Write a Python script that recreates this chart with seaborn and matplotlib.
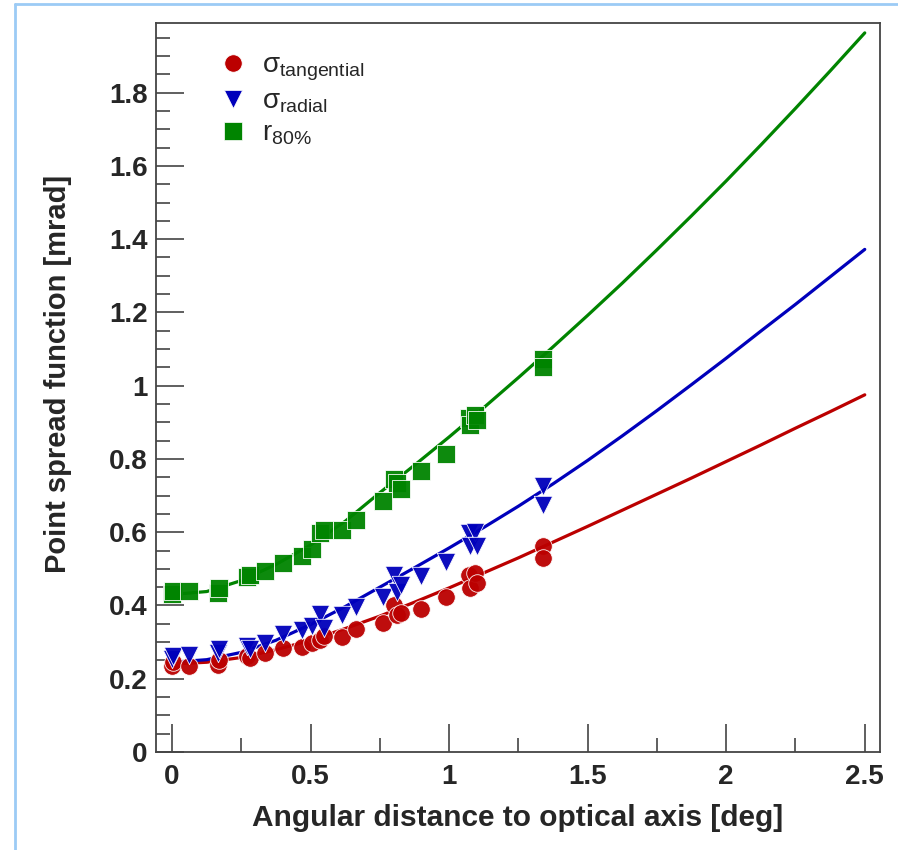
import numpy as np
import pandas as pd
import matplotlib
matplotlib.use("Agg")
import matplotlib.pyplot as plt
import seaborn as sns
from matplotlib.ticker import MultipleLocator, FuncFormatter
from matplotlib.lines import Line2D

# ---------------- data ----------------
angle = [0.000, 0.005, 0.060, 0.165, 0.170, 0.270, 0.280, 0.337, 0.400, 0.470,
         0.505, 0.535, 0.548, 0.615, 0.665, 0.760, 0.800, 0.810, 0.825, 0.897,
         0.988, 1.070, 1.075, 1.094, 1.100, 1.340, 1.340]
sigma_tangential = [0.236, 0.245, 0.234, 0.238, 0.250, 0.262, 0.257, 0.270, 0.283, 0.286,
                    0.297, 0.305, 0.318, 0.315, 0.335, 0.353, 0.402, 0.375, 0.380, 0.391,
                    0.422, 0.484, 0.447, 0.488, 0.460, 0.561, 0.529]
sigma_radial = [0.255, 0.262, 0.265, 0.270, 0.280, 0.290, 0.282, 0.298, 0.322, 0.333,
                0.345, 0.378, 0.338, 0.374, 0.397, 0.424, 0.484, 0.438, 0.456, 0.481,
                0.520, 0.597, 0.561, 0.601, 0.561, 0.725, 0.675]
r80 = [0.430, 0.440, 0.440, 0.435, 0.447, 0.477, 0.482, 0.495, 0.517, 0.535,
       0.553, 0.597, 0.607, 0.607, 0.634, 0.686, 0.746, 0.735, 0.718, 0.768,
       0.814, 0.911, 0.893, 0.921, 0.905, 1.072, 1.051]

fit_x = [0.0, 0.125, 0.25, 0.375, 0.5, 0.625, 0.75, 0.875, 1.0, 1.125, 1.25, 1.375, 1.5,
         1.625, 1.75, 1.875, 2.0, 2.125, 2.25, 2.375, 2.5]
fit_tangential = [0.240, 0.245, 0.258, 0.279, 0.305, 0.337, 0.371, 0.409, 0.448, 0.489,
                  0.530, 0.573, 0.616, 0.660, 0.704, 0.748, 0.793, 0.838, 0.884, 0.929, 0.975]
fit_radial = [0.245, 0.252, 0.272, 0.305, 0.348, 0.397, 0.450, 0.503, 0.557, 0.613,
              0.671, 0.732, 0.796, 0.863, 0.932, 1.003, 1.075, 1.149, 1.222, 1.297, 1.372]
fit_r80 = [0.430, 0.438, 0.468, 0.512, 0.565, 0.630, 0.708, 0.783, 0.860, 0.940,
           1.022, 1.106, 1.192, 1.280, 1.371, 1.464, 1.559, 1.657, 1.757, 1.859, 1.963]

series_labels = [r"$\mathrm{σ}_{\mathrm{tangential}}$", r"$\mathrm{σ}_{\mathrm{radial}}$",
                 r"$\mathrm{r}_{\mathrm{80\%}}$"]
x_ticks = [0, 0.5, 1, 1.5, 2, 2.5]
y_ticks = [0, 0.2, 0.4, 0.6, 0.8, 1.0, 1.2, 1.4, 1.6, 1.8]

# ---------------- style ----------------
sns.set_theme(style="ticks")
plt.rcParams["font.family"] = ["Liberation Sans", "DejaVu Sans"]
plt.rcParams["mathtext.fontset"] = "custom"
plt.rcParams["mathtext.rm"] = "Liberation Sans"
plt.rcParams["mathtext.it"] = "Liberation Sans:italic"
plt.rcParams["mathtext.bf"] = "Liberation Sans:bold"

colors = ["#bb0000", "#0000bb", "#008400"]
markers = ["o", "v", "s"]
sizes = [160, 175, 150]

fig = plt.figure(figsize=(8.98, 8.5), dpi=100)
ax = fig.add_axes([156 / 898, 1 - 752 / 850, (880 - 156) / 898, (752 - 23) / 850])

fits = [fit_tangential, fit_radial, fit_r80]
pts = [sigma_tangential, sigma_radial, r80]

for i in range(3):
    sns.lineplot(x=fit_x, y=fits[i], ax=ax, color=colors[i], linewidth=2.3, legend=False, zorder=3)
for i in range(3):
    sns.scatterplot(x=angle, y=pts[i], ax=ax, color=colors[i], marker=markers[i], s=sizes[i],
                    edgecolor="white", linewidth=0.6, alpha=0.95, zorder=4, legend=False)

ax.set_xlim(-0.058, 2.555)
ax.set_ylim(0, 1.99)
ax.set_xticks(x_ticks)
ax.set_yticks(y_ticks)
fmt = FuncFormatter(lambda v, p: f"{v:g}")
ax.xaxis.set_major_formatter(fmt)
ax.yaxis.set_major_formatter(fmt)
ax.xaxis.set_minor_locator(MultipleLocator(0.25))
ax.yaxis.set_minor_locator(MultipleLocator(0.05))
ax.tick_params(which="both", direction="in", top=False, right=False, color="#444444", width=1.2)
ax.tick_params(which="major", length=20)
ax.tick_params(which="minor", length=10)
ax.tick_params(axis="y", pad=6)
ax.tick_params(axis="x", pad=9)
for lab in ax.get_xticklabels() + ax.get_yticklabels():
    lab.set_fontsize(20)
    lab.set_fontweight("bold")
for sp in ax.spines.values():
    sp.set_color("#444444")
    sp.set_linewidth(1.3)

ax.set_xlabel("Angular distance to optical axis [deg]", fontsize=21.5, fontweight="bold", labelpad=10)
ax.set_ylabel("Point spread function [mrad]", fontsize=21, fontweight="bold")
ax.yaxis.set_label_coords(-0.116, 0.519)

handles = [Line2D([], [], linestyle="none", marker=markers[i], color=colors[i],
                  markersize=12.5, markeredgecolor="white", markeredgewidth=0.5) for i in range(3)]
ax.legend(handles, series_labels, loc="upper left", bbox_to_anchor=(0.053, 0.975),
          frameon=False, fontsize=20, handletextpad=0.05, labelspacing=0.2, borderaxespad=0)

# light-blue frame of the original screenshot
fig.add_artist(Line2D([15 / 898, 15 / 898], [0, 1 - 4 / 850], transform=fig.transFigure, color="#9ccbf5", lw=2))
fig.add_artist(Line2D([15 / 898, 1], [1 - 4 / 850, 1 - 4 / 850], transform=fig.transFigure, color="#9ccbf5", lw=2))

fig.savefig("out.png", dpi=100)
